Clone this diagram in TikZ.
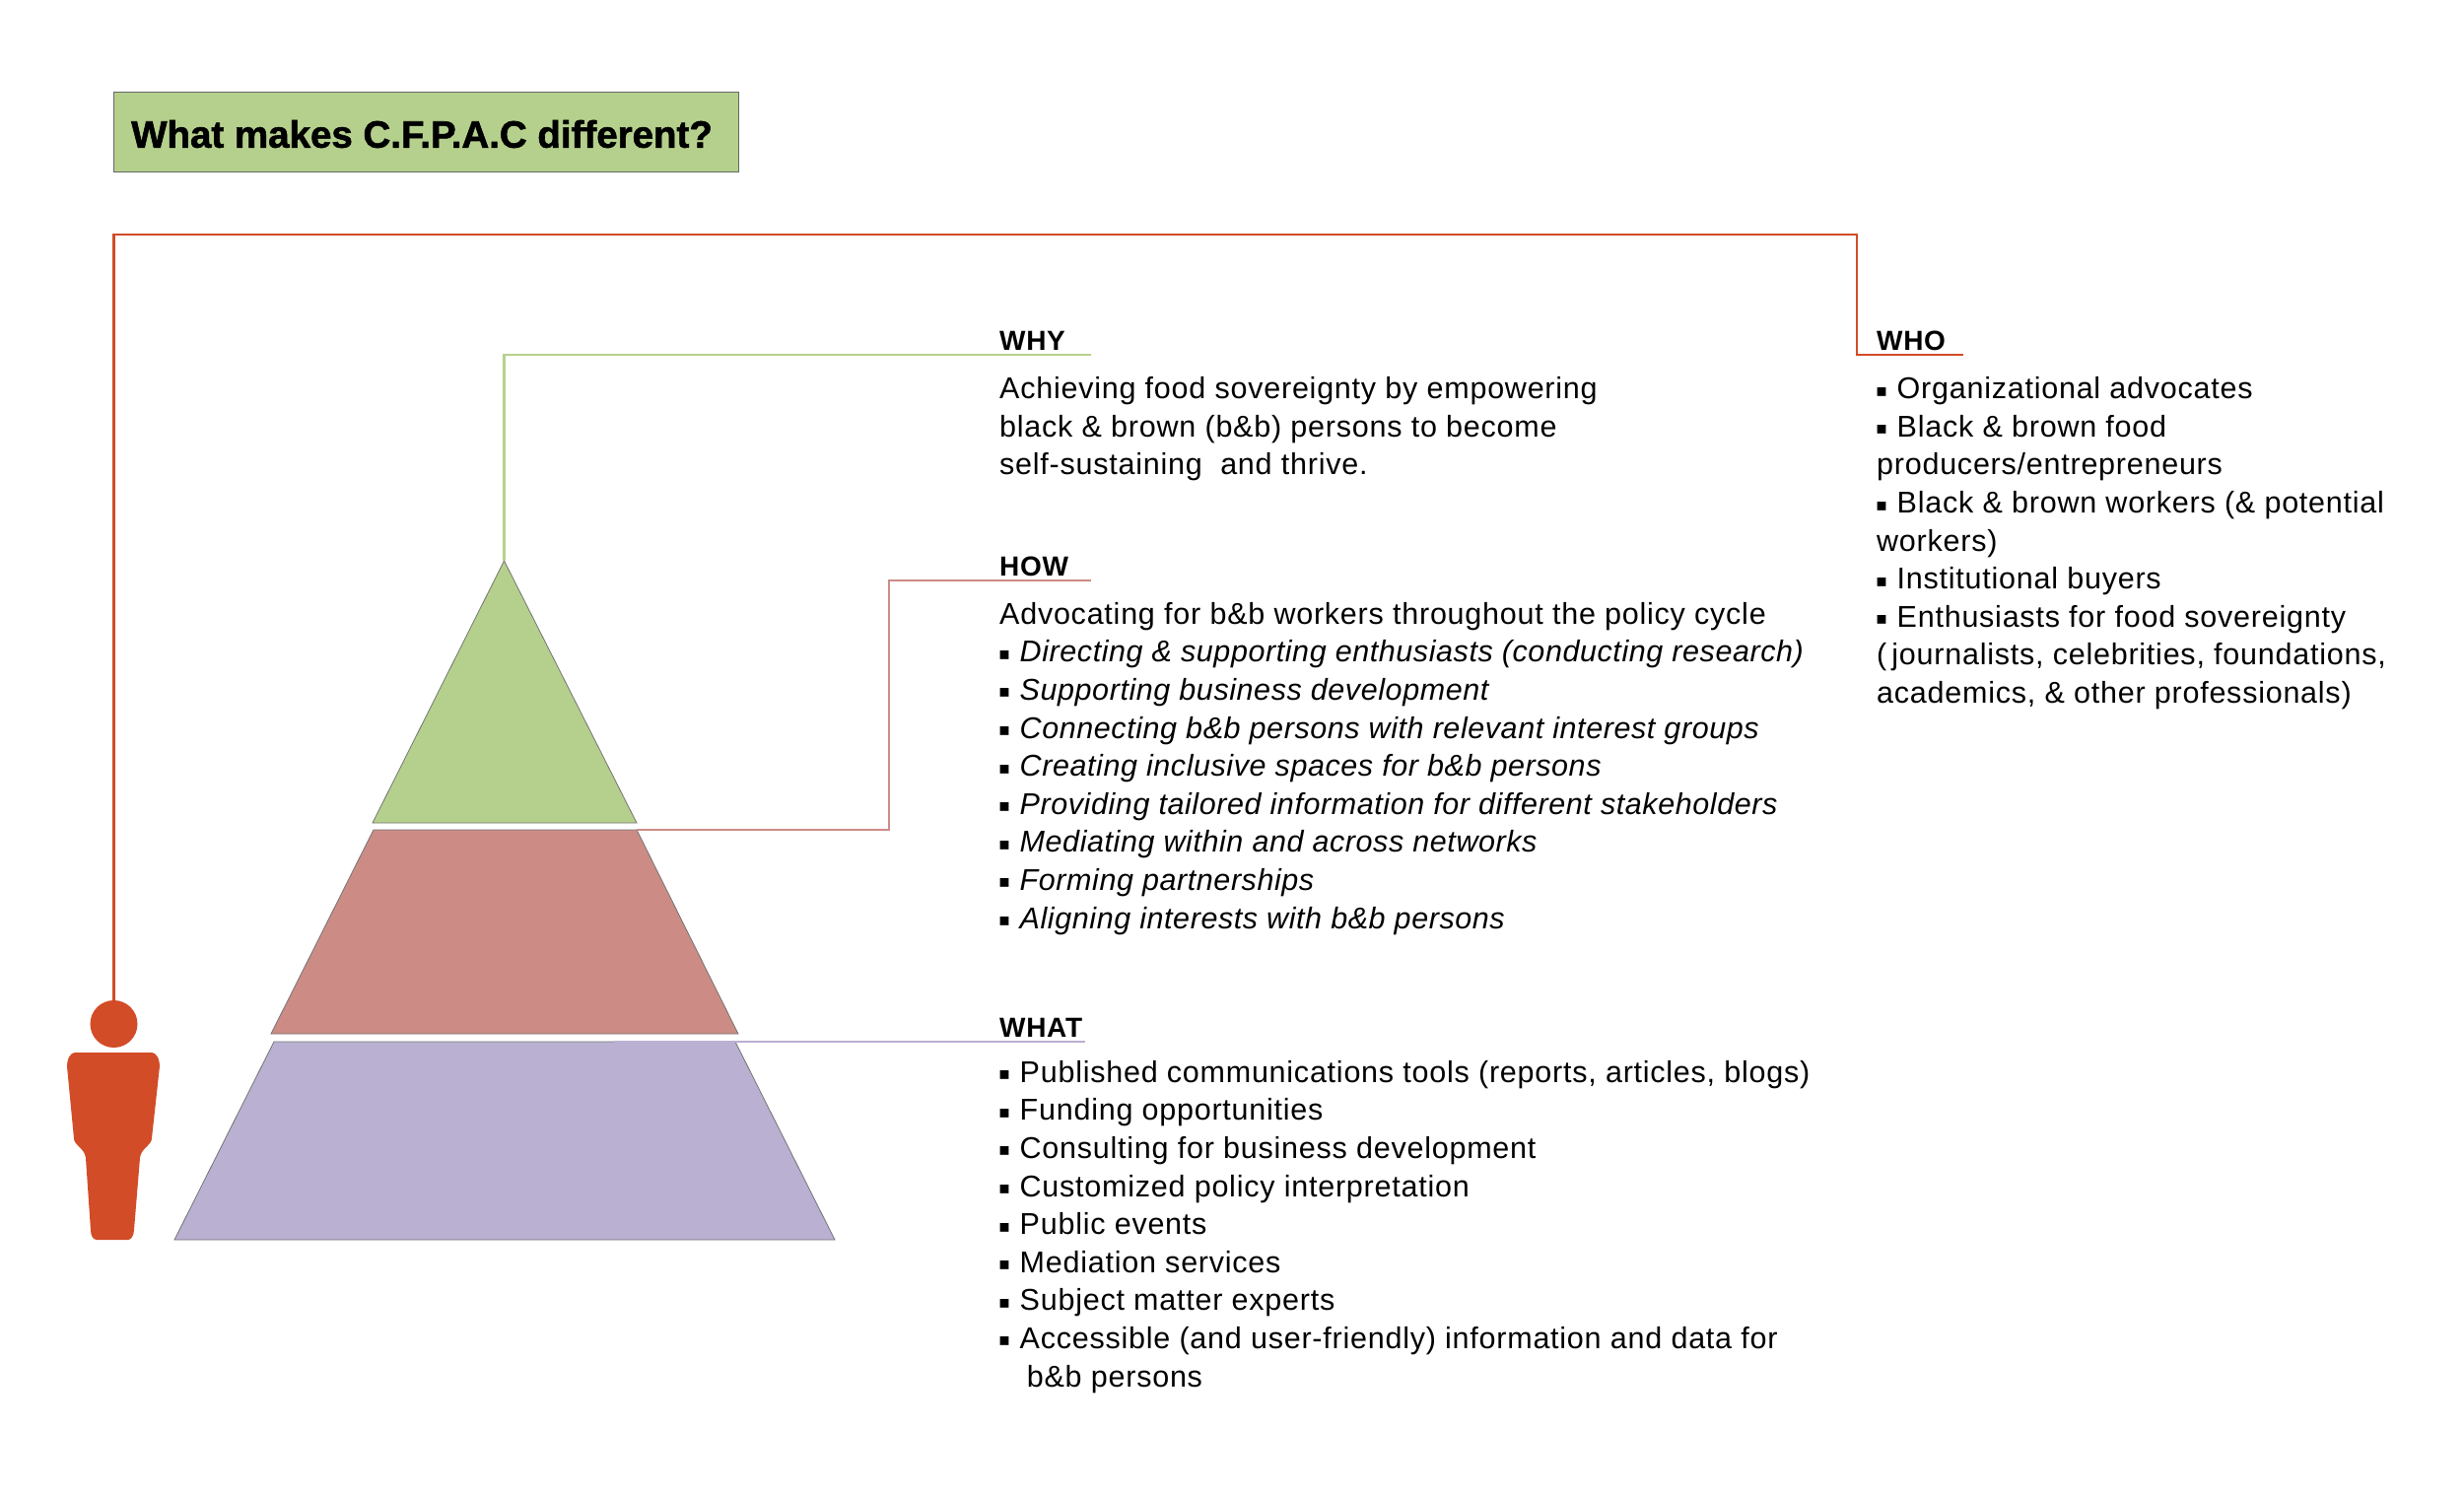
\documentclass[tikz,border=0pt]{standalone}
\usepackage{fontspec}
\setmainfont[LetterSpace=2.5,ItalicFeatures={LetterSpace=1.9}]{Liberation Sans}
\newfontfamily\bulletfont{DejaVu Sans}
\newfontfamily\titlefont[FakeBold=1.5]{Liberation Sans Bold}
\definecolor{cfgreen}{HTML}{B5D08D}
\definecolor{cfrose}{HTML}{CC8C85}
\definecolor{cflilac}{HTML}{BAB0D2}
\definecolor{cfred}{HTML}{D24C27}
\newcommand{\blt}{\makebox[20.5pt][l]{\hspace{-1pt}\raisebox{2.5pt}{\bulletfont\scalebox{0.58}{▪}}}}
\begin{document}
\begin{tikzpicture}[x=1pt,y=-1pt,
    head label/.style={anchor=south west,inner sep=0pt,inner ysep=4.5pt,text width=93pt,font=\fontsize{28}{30}\selectfont\bfseries},
    body text/.style={anchor=north west,inner sep=0pt,align=left,font=\fontsize{30.5}{38.6}\selectfont},
    pyramid/.style={draw=black!55,line width=0.8pt},
    link/.style={line width=2.2pt}]
  \useasboundingbox (0,0) rectangle (2500,1518);
  \node[fill=cfgreen,draw=black!60,line width=0.8pt,minimum width=634pt,minimum height=81pt,anchor=north west,inner sep=0pt] (title) at (115,93) {};
  \node[anchor=west,inner sep=0pt,font=\fontsize{38.5}{42}\selectfont\titlefont] (titletext) at (133,136) {What makes C.F.P.A.C different?};

  \coordinate (apex) at (511.5,569);
  \coordinate (greenL) at (378,835);
  \coordinate (greenR) at (646,835);
  \coordinate (roseTL) at (379,842);
  \coordinate (roseTR) at (646,842);
  \coordinate (roseBR) at (749,1049);
  \coordinate (roseBL) at (275,1049);
  \coordinate (lilacTL) at (278,1057);
  \coordinate (lilacTR) at (746,1057);
  \coordinate (lilacBR) at (847,1258);
  \coordinate (lilacBL) at (177,1258);
  \coordinate (lilacFrom) at (623,1057);
  \fill[pyramid,fill=cfgreen] (apex) -- (greenR) -- (greenL) -- cycle;
  \fill[pyramid,fill=cfrose] (roseTL) -- (roseTR) -- (roseBR) -- (roseBL) -- cycle;
  \fill[pyramid,fill=cflilac] (lilacTL) -- (lilacTR) -- (lilacBR) -- (lilacBL) -- cycle;

  \node[circle,fill=cfred,minimum size=48pt,inner sep=0pt] (figurehead) at (115.5,1039) {};
  \fill[cfred] (77,1068) -- (153,1068) .. controls (160,1068) and (162,1076) .. (162,1082)
    -- (154,1155) .. controls (154,1162) and (143,1165) .. (142,1175)
    -- (136,1248) .. controls (136,1255) and (132,1258) .. (130,1258)
    -- (98,1258) .. controls (94,1258) and (92,1253) .. (92,1248)
    -- (87,1175) .. controls (86,1165) and (75,1162) .. (75,1155)
    -- (68,1082) .. controls (68,1076) and (70,1068) .. (77,1068) -- cycle;

  \node[head label] (why) at (1014,360) {WHY};
  \node[head label] (how) at (1014,589) {HOW};
  \node[head label,text width=87pt] (what) at (1014,1057) {WHAT};
  \node[head label,text width=88pt] (who) at (1904,360) {WHO};

  \node[body text] (whytext) at (1014,376.5) {\rule{0pt}{28pt}Achieving food sovereignty by empowering\\black \& brown (b\&b) persons to become\\self-sustaining\ \ and thrive.};
  \node[body text] (howtext) at (1014,605) {\rule{0pt}{28pt}Advocating for b\&b workers throughout the policy cycle\\
    \blt\textit{Directing \& supporting enthusiasts (conducting research)}\\
    \blt\textit{Supporting business development}\\
    \blt\textit{Connecting b\&b persons with relevant interest groups}\\
    \blt\textit{Creating inclusive spaces for b\&b persons}\\
    \blt\textit{Providing tailored information for different stakeholders}\\
    \blt\textit{Mediating within and across networks}\\
    \blt\textit{Forming partnerships}\\
    \blt\textit{Aligning interests with b\&b persons}};
  \node[body text] (whattext) at (1014,1070) {\rule{0pt}{28pt}\blt Published communications tools (reports, articles, blogs)\\
    \blt Funding opportunities\\
    \blt Consulting for business development\\
    \blt Customized policy interpretation\\
    \blt Public events\\
    \blt Mediation services\\
    \blt Subject matter experts\\
    \blt Accessible (and user-friendly) information and data for\\
    \ \ \ b\&b persons};
  \node[body text] (whotext) at (1904,376.5) {\rule{0pt}{28pt}\blt Organizational advocates\\
    \blt Black \& brown food\\
    producers/entrepreneurs\\
    \blt Black \& brown workers (\& potential\\
    workers)\\
    \blt Institutional buyers\\
    \blt Enthusiasts for food sovereignty\\
    (\,journalists, celebrities, foundations,\\
    academics, \& other professionals)};

  \draw[link,cfgreen] (apex) |- (why.south east);
  \draw[link,cfrose] (roseTR) -- (902,842) |- (how.south east);
  \draw[link,cflilac] (lilacFrom) -- (what.south east);
  \draw[link,cfred] (figurehead.north) |- (1884,238) |- (who.south east);
\end{tikzpicture}
\end{document}
